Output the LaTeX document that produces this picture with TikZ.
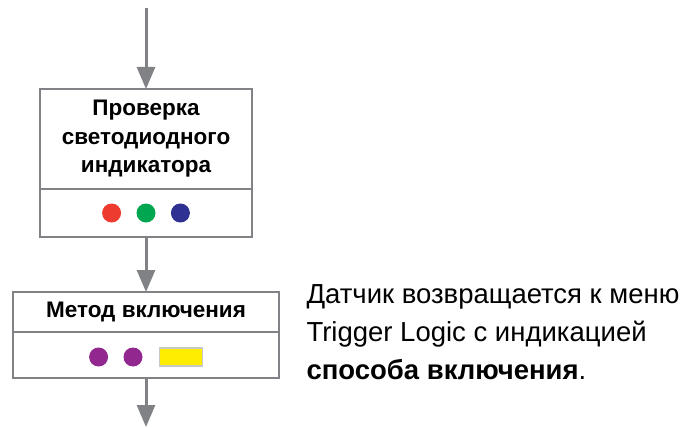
\documentclass[tikz,border=0pt]{standalone}
\usepackage{fontspec}
\setmainfont{Liberation Sans}
\usetikzlibrary{positioning,arrows.meta}
\definecolor{flowgray}{HTML}{808285}
\definecolor{ledred}{HTML}{EE3B2F}
\definecolor{ledgreen}{HTML}{00A650}
\definecolor{ledblue}{HTML}{2E3192}
\definecolor{ledpurple}{HTML}{92278F}
\definecolor{ledyellow}{HTML}{FFED00}
\definecolor{rimgray}{HTML}{C8C8C8}
\tikzstyle{title}=[draw=flowgray,line width=1.5pt,outer sep=0pt,inner sep=0pt,align=center,font=\bfseries\fontsize{22.5}{28.5}\selectfont]
\tikzstyle{leds}=[draw=flowgray,line width=1.5pt,outer sep=0pt,inner sep=0pt]
\tikzstyle{led}=[circle,inner sep=0pt,minimum size=19pt]
\tikzstyle{flow}=[draw=flowgray,line width=3pt,-{Triangle[length=22pt,width=18pt]}]

\begin{document}
\begin{tikzpicture}[x=1pt,y=-1pt]
  \useasboundingbox (0,0) rectangle (686,428);

  \node(check)[title,minimum width=212pt,minimum height=100pt] at (146,139)
    {Проверка\\светодиодного\\индикатора};
  \node(checkleds)[leds,minimum width=212pt,minimum height=48pt,below=0pt of check] {};
  \node(g)[led,fill=ledgreen] at (checkleds.center) {};
  \node(r)[led,fill=ledred,left=15pt of g] {};
  \node(b)[led,fill=ledblue,right=15pt of g] {};

  \node(mode)[title,minimum width=266pt,minimum height=40pt,below=55pt of checkleds]
    {Метод включения};
  \node(modeleds)[leds,minimum width=266pt,minimum height=46pt,below=0pt of mode] {};
  \node(p2)[led,fill=ledpurple] at ([xshift=-13pt,yshift=-2pt]modeleds.center) {};
  \node(p1)[led,fill=ledpurple,left=15pt of p2] {};
  \node(y)[draw=rimgray,line width=1.5pt,fill=ledyellow,minimum width=43pt,minimum height=18pt,
    inner sep=0pt,right=16pt of p2] {};

  \node(note)[right=24pt of modeleds.north east,align=left,font=\fontsize{27.5}{38}\selectfont]
    {Датчик возвращается к меню\\Trigger Logic с индикацией\\\textbf{способа включения}.};

  \coordinate (in) at (146,8);
  \coordinate (out) at (146,427);
  \draw[flow] (in) -- (check);
  \draw[flow] (checkleds) -- (mode);
  \draw[flow] (modeleds) -- (out);
\end{tikzpicture}
\end{document}
